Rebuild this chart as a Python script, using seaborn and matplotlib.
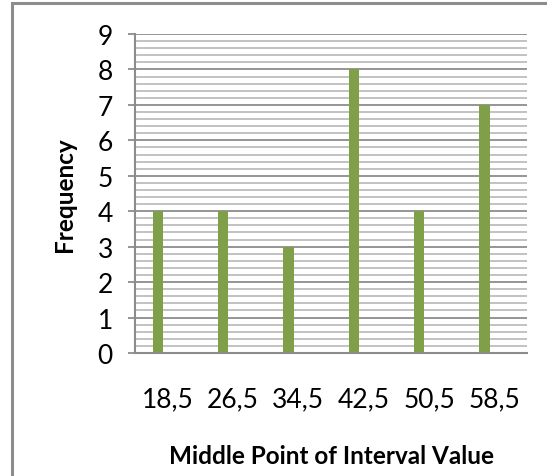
import matplotlib
matplotlib.use("Agg")
import matplotlib.pyplot as plt
import seaborn as sns
import pandas as pd
from matplotlib.ticker import MultipleLocator
from matplotlib.patches import Rectangle

categories = ["18,5", "26,5", "34,5", "42,5", "50,5", "58,5"]
frequency = [4, 4, 3, 8, 4, 7]
empty_series = [0, 0, 0, 0, 0, 0]

sns.set_theme(style="white")
plt.rcParams['font.family'] = ['Lato', 'DejaVu Sans']

df = pd.DataFrame({
    "Middle": categories * 2,
    "Value": frequency + empty_series,
    "Series": ["Frequency"] * 6 + ["Blank"] * 6,
})

fig = plt.figure(figsize=(5.47, 4.77), dpi=100)
ax = fig.add_axes([135/547, 123/477, 392/547, 319/477])

sns.barplot(data=df, x="Middle", y="Value", hue="Series",
            hue_order=["Frequency", "Blank"],
            palette=["#7F9F48", "#7F9F48"], width=0.6, gap=0.47,
            legend=False, ax=ax, errorbar=None, saturation=1, linewidth=0)

ax.set_xlim(-0.5, 5.5)
ax.set_ylim(0, 9)
ax.yaxis.set_major_locator(MultipleLocator(1))
ax.yaxis.set_minor_locator(MultipleLocator(0.2))
ax.grid(which="major", axis="y", color="#8C8C8C", linewidth=1.3)
ax.grid(which="minor", axis="y", color="#B8B8B8", linewidth=1.2)
ax.set_axisbelow(True)

for s in ["top", "right"]:
    ax.spines[s].set_visible(False)
for s in ["left", "bottom"]:
    ax.spines[s].set_color("#8C8C8C")
    ax.spines[s].set_linewidth(1.5)

ax.tick_params(axis="y", which="major", direction="out", length=5, width=1.3,
               color="#8C8C8C", left=True, labelsize=19, pad=11, labelcolor="black")
ax.tick_params(axis="y", which="minor", length=0)
ax.tick_params(axis="x", length=0, pad=24, labelsize=19, labelcolor="black")

ax.set_xlabel("Middle Point of Interval Value", fontsize=17.5, fontweight="bold", color="black")
ax.set_ylabel("Frequency", fontsize=17.5, fontweight="bold", color="black")
ax.xaxis.set_label_coords(0.501, -0.285)
ax.yaxis.set_label_coords(-0.15, 0.5)

fig.patches.append(Rectangle((12/547, -0.1), 1.2, (477-4)/477 + 0.1,
                             transform=fig.transFigure, fill=False,
                             edgecolor="#8C8C8C", linewidth=2.2))

fig.savefig("out.png", dpi=100)
